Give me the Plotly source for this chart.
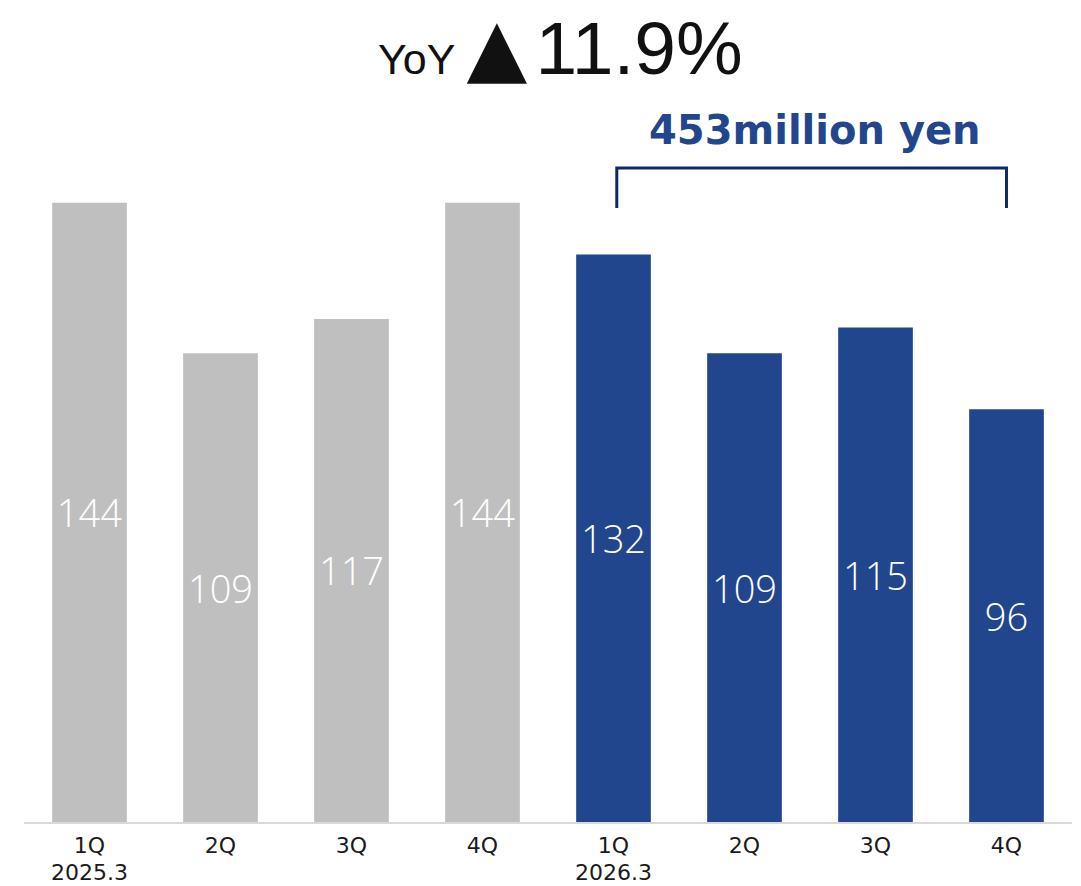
import plotly.graph_objects as go

# Quarterly values (million yen)
quarters = ["1Q", "2Q", "3Q", "4Q", "1Q", "2Q", "3Q", "4Q"]
fiscal_years = ["2025.3", "", "", "", "2026.3", "", "", ""]
prev_values = [144, 109, 117, 144]
curr_values = [132, 109, 115, 96]
total_label = "453million yen"
yoy_label = "11.9%"

GREY = "#bfbfbf"
BLUE = "#22468e"
NAVY = "#0d2a6b"
TEXT = "#1a1a1a"

values = prev_values + curr_values
colors = [GREY] * len(prev_values) + [BLUE] * len(curr_values)
xpos = list(range(len(values)))

MARGIN_T, MARGIN_B = 100, 64
PLOT_H = 886 - MARGIN_T - MARGIN_B

fig = go.Figure(
    go.Bar(
        x=xpos,
        y=values,
        marker=dict(color=colors, line=dict(width=0)),
        text=[str(v) for v in values],
        textposition="inside",
        insidetextanchor="middle",
        textangle=0,
        textfont=dict(family="Open Sans", size=38, color="white", weight=300),
        width=0.57,
        hoverinfo="skip",
    )
)

# Bracket over the current fiscal year
first, last = len(prev_values), len(values) - 1
y_top, y_bot = 152.1, 142.8
fig.add_shape(
    type="path",
    xref="x", yref="y",
    path=f"M {first + 0.025},{y_bot} L {first + 0.025},{y_top} L {last},{y_top} L {last},{y_bot}",
    line=dict(color=NAVY, width=3),
)

fig.add_annotation(
    x=(first + last) / 2 + 0.035, y=161.0, xref="x", yref="y",
    text=f"<b>{total_label}</b>",
    showarrow=False,
    font=dict(family="DejaVu Sans", size=40, color=BLUE),
    xanchor="center", yanchor="middle",
)

# Year-over-year headline
fig.add_annotation(
    x=0.512, y=1.0 + MARGIN_T / PLOT_H, xref="paper", yref="paper",
    text=(
        "<span style='font-size:43px'>YoY </span>"
        "<span style='font-family:DejaVu Sans;font-size:79px'>▲</span>"
        "<span style='font-size:30px'> </span>"
        f"{yoy_label}"
    ),
    showarrow=False,
    borderpad=0,
    font=dict(family="Liberation Sans", size=75, color="#111111"),
    xanchor="center", yanchor="top",
)

# Fiscal-year labels under the first quarter of each year
for x, fy in zip(xpos, fiscal_years):
    if fy:
        fig.add_annotation(
            x=x, y=-MARGIN_B / PLOT_H, xref="x", yref="paper",
            text=fy, showarrow=False, borderpad=0,
            font=dict(family="DejaVu Sans", size=22, color=TEXT),
            xanchor="center", yanchor="bottom",
        )

fig.update_layout(
    width=1081, height=886,
    margin=dict(l=24, r=9, t=MARGIN_T, b=MARGIN_B),
    paper_bgcolor="white", plot_bgcolor="white",
    showlegend=False,
    xaxis=dict(
        range=[-0.5, len(values) - 0.5],
        tickmode="array", tickvals=xpos, ticktext=quarters,
        tickfont=dict(family="DejaVu Sans", size=22, color=TEXT),
        ticklabelstandoff=3,
        automargin=False,
        showgrid=False, zeroline=False,
        showline=True, linecolor="#d9d9d9", linewidth=2,
        ticks="", fixedrange=True,
    ),
    yaxis=dict(
        range=[0, PLOT_H / 4.3],
        visible=False, showgrid=False, zeroline=False, fixedrange=True,
    ),
    uniformtext=dict(mode=False),
)

fig.write_html("out.html")
